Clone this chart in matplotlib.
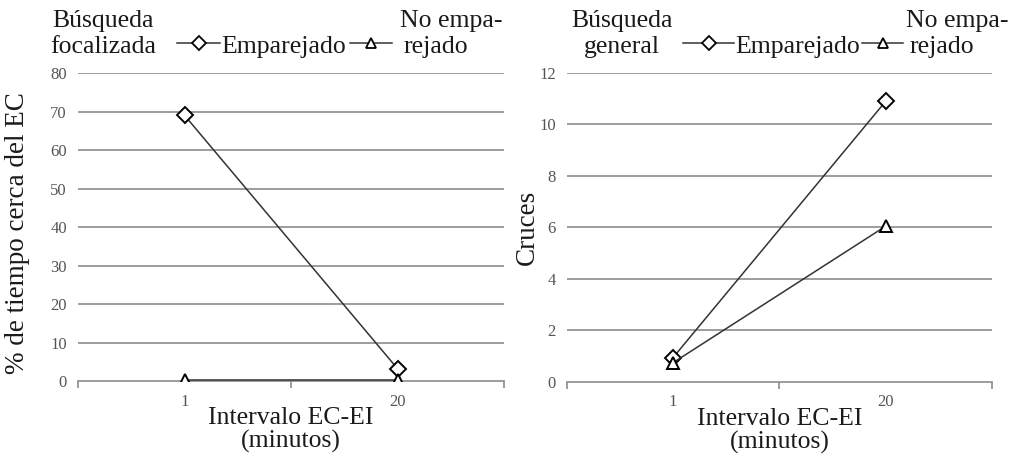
import matplotlib
matplotlib.use("Agg")
import matplotlib.pyplot as plt
from matplotlib.lines import Line2D


CATEGORIES = ["1", "20"]

FOCAL_PAIRED = [69.0, 3.2]
FOCAL_UNPAIRED = [0.2, 0.2]

GENERAL_PAIRED = [0.95, 10.9]
GENERAL_UNPAIRED = [0.75, 6.05]

FOCAL_TICKS = [0, 10, 20, 30, 40, 50, 60, 70, 80]
GENERAL_TICKS = [0, 2, 4, 6, 8, 10, 12]

SERIF = ["Liberation Serif", "DejaVu Serif"]
TEXT_COLOR = "#1a1a1a"
TICK_COLOR = "#555555"
GRID_COLOR = "#8c8c8c"
LINE_COLOR = "#333333"
BIG = 18.5


def draw_panel(ax, paired, unpaired, yticks, ylabel, ylabel_xy, xlabel):
    x = [0.5 + i for i in range(len(CATEGORIES))]

    for yt in yticks[1:]:
        ax.axhline(yt, color=GRID_COLOR, linewidth=1.2, zorder=1)

    ax.plot(x, paired, color=LINE_COLOR, linewidth=1.1, marker="D",
            markersize=8, markerfacecolor="white", markeredgecolor="black",
            markeredgewidth=1.4, zorder=3)
    ax.plot(x, unpaired, color=LINE_COLOR, linewidth=1.1, marker="^",
            markersize=9, markerfacecolor="white", markeredgecolor="black",
            markeredgewidth=1.4, zorder=3)

    ax.set_xlim(0, len(CATEGORIES))
    ax.set_ylim(yticks[0], yticks[-1])

    for side in ["top", "right", "left"]:
        ax.spines[side].set_visible(False)
    ax.spines["bottom"].set_color(GRID_COLOR)
    ax.spines["bottom"].set_linewidth(1.2)

    ax.set_xticks(range(len(CATEGORIES) + 1))
    ax.set_xticklabels([])
    ax.set_xticks(x, minor=True)
    ax.set_xticklabels(CATEGORIES, minor=True, fontsize=12,
                       color=TICK_COLOR, family=SERIF)
    ax.tick_params(axis="x", which="major", length=5, color=GRID_COLOR,
                   width=1.2, direction="out")
    ax.tick_params(axis="x", which="minor", length=0, pad=9)

    ax.set_yticks(yticks)
    ax.set_yticklabels([str(v) for v in yticks], fontsize=12,
                       color=TICK_COLOR, family=SERIF)
    ax.tick_params(axis="y", length=0, pad=8)

    ax.set_ylabel(ylabel, fontsize=BIG + 1, family=SERIF, color=TEXT_COLOR)
    ax.yaxis.set_label_coords(*ylabel_xy)
    ax.set_xlabel(xlabel, fontsize=BIG, family=SERIF, color=TEXT_COLOR,
                  linespacing=1.05)
    ax.xaxis.set_label_coords(0.5, -0.085)


def draw_key(fig, title, x_title, x_line1, x_text1, x_line2, x_text2):
    W, H = 1027.0, 458.0
    kw = dict(fontsize=BIG, family=SERIF, color=TEXT_COLOR)

    fig.text(x_title / W, 1 - 27 / H, title[0], ha="center",
             va="baseline", **kw)
    fig.text(x_title / W, 1 - 53 / H, title[1], ha="center",
             va="baseline", **kw)

    y_line = 1 - 43 / H
    for (x0, x1), marker in [(x_line1, "D"), (x_line2, "^")]:
        fig.add_artist(Line2D([x0 / W, x1 / W], [y_line, y_line],
                              color=LINE_COLOR, linewidth=1.1))
        fig.add_artist(Line2D([(x0 + x1) / 2 / W], [y_line],
                              linestyle="none", marker=marker, markersize=7,
                              markerfacecolor="white",
                              markeredgecolor="black", markeredgewidth=1.3))

    fig.text(x_text1 / W, 1 - 53 / H, "Emparejado", ha="left",
             va="baseline", **kw)
    fig.text(x_text2 / W, 1 - 27 / H, "No empa-", ha="left",
             va="baseline", **kw)
    fig.text(x_text2 / W + 3 / W, 1 - 53 / H, "rejado", ha="left",
             va="baseline", **kw)


def main():
    fig = plt.figure(figsize=(10.27, 4.58), dpi=100)

    ax_left = fig.add_axes([0.076, 0.168, 0.4148, 0.6726])
    ax_right = fig.add_axes([0.552, 0.166, 0.4138, 0.6746])

    draw_panel(ax_left, FOCAL_PAIRED, FOCAL_UNPAIRED, FOCAL_TICKS,
               "% de tiempo cerca del EC", (-0.112, 0.48),
               "Intervalo EC-EI\n(minutos)")
    draw_panel(ax_right, GENERAL_PAIRED, GENERAL_UNPAIRED, GENERAL_TICKS,
               "Cruces", (-0.064, 0.5), "Intervalo EC-EI\n(minutos)")

    draw_key(fig, ("Búsqueda", "focalizada"), 103,
             (177, 220), 221, (350, 392), 400)
    draw_key(fig, ("Búsqueda", "general"), 622,
             (683, 734), 735, (862, 903), 906)

    fig.savefig("out.png", dpi=100)
    plt.close(fig)


if __name__ == "__main__":
    main()
